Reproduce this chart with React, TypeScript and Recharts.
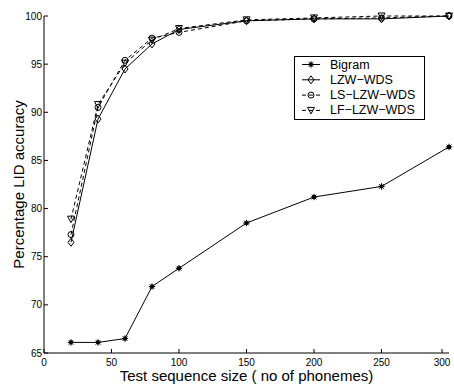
import React from 'react';
import { LineChart, Line, XAxis, YAxis, Legend } from 'recharts';

const sizes = [20, 40, 60, 80, 100, 150, 200, 250, 300];
const bigram = [66.1, 66.1, 66.5, 71.9, 73.8, 78.5, 81.2, 82.3, 86.4];
const lzwWds = [76.5, 89.3, 94.5, 97.1, 98.6, 99.5, 99.7, 99.7, 100];
const lsLzwWds = [77.3, 90.5, 95.4, 97.7, 98.3, 99.5, 99.7, 99.8, 100];
const lfLzwWds = [78.9, 90.8, 95.1, 97.5, 98.7, 99.6, 99.8, 100, 100];
const xTicks = [0, 50, 100, 150, 200, 250, 300];
const yTicks = [65, 70, 75, 80, 85, 90, 95, 100];

const data = sizes.map((s, i) => ({
  size: s,
  bigram: bigram[i],
  lzw: lzwWds[i],
  ls: lsLzwWds[i],
  lf: lfLzwWds[i],
}));

const FONT = '"Liberation Sans", Arial, Helvetica, sans-serif';

type Shape = 'star' | 'diamond' | 'circle' | 'tri';

function marker(shape: Shape, cx: number, cy: number, key?: any) {
  if (shape === 'star') {
    const r = 3.2;
    const d = r * 0.72;
    return (
      <g key={key} stroke="#000" strokeWidth={1}>
        <line x1={cx - r} y1={cy} x2={cx + r} y2={cy} />
        <line x1={cx} y1={cy - r} x2={cx} y2={cy + r} />
        <line x1={cx - d} y1={cy - d} x2={cx + d} y2={cy + d} />
        <line x1={cx - d} y1={cy + d} x2={cx + d} y2={cy - d} />
        <circle cx={cx} cy={cy} r={1.6} fill="#000" />
      </g>
    );
  }
  if (shape === 'diamond') {
    return (
      <polygon
        key={key}
        points={`${cx},${cy - 4} ${cx + 3},${cy} ${cx},${cy + 4} ${cx - 3},${cy}`}
        fill="none"
        stroke="#000"
        strokeWidth={1}
      />
    );
  }
  if (shape === 'circle') {
    return <circle key={key} cx={cx} cy={cy} r={3} fill="none" stroke="#000" strokeWidth={1} />;
  }
  return (
    <polygon
      key={key}
      points={`${cx - 3.5},${cy - 3} ${cx + 3.5},${cy - 3} ${cx},${cy + 3.5}`}
      fill="none"
      stroke="#000"
      strokeWidth={1}
    />
  );
}

const makeDot = (shape: Shape) => (props: any) => {
  const { cx, cy, key, index } = props;
  if (cx == null || cy == null) return <g key={key ?? index} />;
  return marker(shape, cx, cy, key ?? `${shape}-${index}`);
};

const series = [
  { key: 'bigram', name: 'Bigram', shape: 'star' as Shape, dash: undefined as string | undefined },
  { key: 'lzw', name: 'LZW\u2212WDS', shape: 'diamond' as Shape, dash: undefined },
  { key: 'ls', name: 'LS\u2212LZW\u2212WDS', shape: 'circle' as Shape, dash: '4 3' },
  { key: 'lf', name: 'LF\u2212LZW\u2212WDS', shape: 'tri' as Shape, dash: '4 3' },
];

const XTick = (props: any) => {
  const { x, y, payload } = props;
  return (
    <g>
      <line x1={x} y1={y} x2={x} y2={y - 4} stroke="#000" strokeWidth={1} />
      <text x={x} y={y + 9} textAnchor="middle" dominantBaseline="central" fontSize={10} fontFamily={FONT} fill="#000">
        {payload.value}
      </text>
    </g>
  );
};

const YTick = (props: any) => {
  const { x, y, payload } = props;
  return (
    <g>
      <line x1={x} y1={y} x2={x + 4} y2={y} stroke="#000" strokeWidth={1} />
      <text x={x - 2} y={y} textAnchor="end" dominantBaseline="central" fontSize={10} fontFamily={FONT} fill="#000">
        {payload.value}
      </text>
    </g>
  );
};

const LegendBox = () => {
  const w = 130;
  const h = 63;
  const rowH = 15.3;
  return (
    <svg width={w + 2} height={h + 2} style={{ display: 'block' }}>
      <rect x={0.5} y={0.5} width={w} height={h} fill="#fff" stroke="#000" strokeWidth={1} />
      {series.map((s, i) => {
        const cy = 8.5 + i * rowH;
        return (
          <g key={s.key}>
            <line x1={8} y1={cy} x2={26} y2={cy} stroke="#000" strokeWidth={1} strokeDasharray={s.dash} />
            {marker(s.shape, 17, cy)}
            <text x={36} y={cy} dominantBaseline="central" fontSize={12.5} fontFamily={FONT} fill="#000">
              {s.name}
            </text>
          </g>
        );
      })}
    </svg>
  );
};

export default function App() {
  return (
    <div style={{ position: 'absolute', left: 0, top: 0, background: '#fff' }}>
      <LineChart width={454} height={385} data={data} margin={{ top: 16, right: 5, bottom: 0, left: 0 }}>
        <XAxis
          dataKey="size"
          type="number"
          domain={[0, 300]}
          ticks={xTicks}
          height={32}
          tickSize={0}
          tickMargin={0}
          tick={<XTick />}
          axisLine={{ stroke: '#000', strokeWidth: 1 }}
          label={{
            content: (p: any) => {
              const vb = p.viewBox;
              return (
                <text x={vb.x + vb.width / 2} y={vb.y + 22} textAnchor="middle" dominantBaseline="central" fontSize={15} fontFamily={FONT} fill="#000">
                  Test sequence size ( no of phonemes)
                </text>
              );
            },
          }}
        />
        <YAxis
          type="number"
          domain={[65, 100]}
          ticks={yTicks}
          width={44}
          tickSize={0}
          tickMargin={0}
          tick={<YTick />}
          axisLine={{ stroke: '#000', strokeWidth: 1 }}
          label={{
            content: (p: any) => {
              const vb = p.viewBox;
              const cx = 18;
              const cy = vb.y + vb.height / 2;
              return (
                <text x={cx} y={cy} textAnchor="middle" dominantBaseline="central" fontSize={15} fontFamily={FONT} fill="#000" transform={`rotate(-90, ${cx}, ${cy})`}>
                  Percentage LID accuracy
                </text>
              );
            },
          }}
        />
        <Legend
          layout="horizontal"
          verticalAlign="middle"
          align="center"
          content={() => <LegendBox />}
          wrapperStyle={{ position: 'absolute', left: 294, top: 56, width: 'auto', height: 'auto' }}
        />
        {series.map((s) => (
          <Line
            key={s.key}
            dataKey={s.key}
            name={s.name}
            stroke="#000"
            strokeWidth={1}
            strokeDasharray={s.dash}
            dot={makeDot(s.shape)}
            activeDot={false}
            isAnimationActive={false}
          />
        ))}
      </LineChart>
    </div>
  );
}
